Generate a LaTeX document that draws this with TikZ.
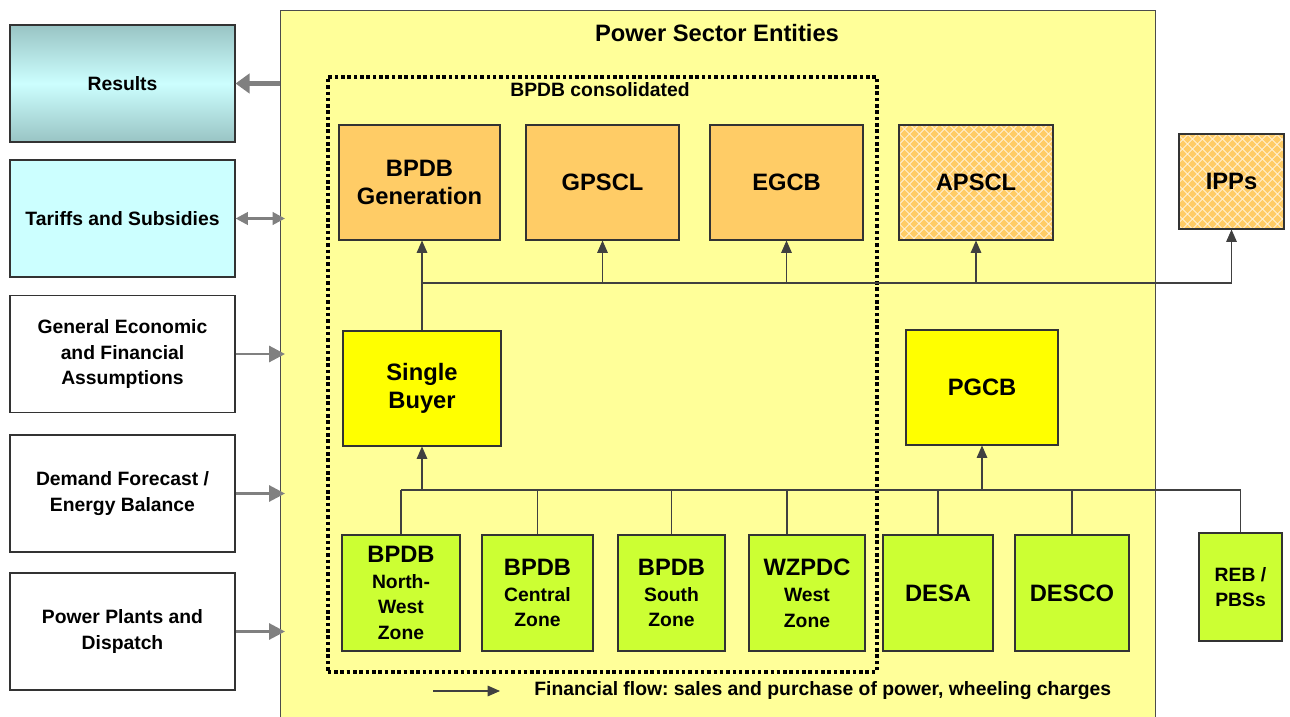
\documentclass[tikz,border=0pt]{standalone}
\usepackage{fontspec}
\setmainfont{Liberation Sans}
\usetikzlibrary{arrows.meta,patterns.meta}
\definecolor{sectoryellow}{HTML}{FFFF99}
\definecolor{genorange}{HTML}{FFCC66}
\definecolor{buyeryellow}{HTML}{FFFF00}
\definecolor{distgreen}{HTML}{CCFF33}
\definecolor{palecyan}{HTML}{CCFFFF}
\definecolor{tealdark}{HTML}{99C4C4}
\definecolor{feedgray}{HTML}{808080}
\newcommand{\bigtxt}{\fontsize{13.5}{16}\selectfont\bfseries}
\newcommand{\smalltxt}{\fontsize{11}{14.7}\selectfont\bfseries}
\frenchspacing

\begin{document}
\begin{tikzpicture}[x=0.02cm,y=-0.02cm,
    box/.style={draw=black!80,line width=.6pt,inner sep=0pt,align=center},
    sz/.style 2 args={minimum width=#1*0.02cm,minimum height=#2*0.02cm},
    inputbox/.style={box,sz={225}{117},font=\smalltxt},
    genbox/.style={box,fill=genorange,font=\bigtxt},
    hatched/.style={box,font=\bigtxt,
        preaction={fill=genorange},
        preaction={pattern color=white!80!genorange,pattern={Lines[angle=45,distance=4pt,line width=.5pt]}},
        preaction={pattern color=white!80!genorange,pattern={Lines[angle=-45,distance=4pt,line width=.5pt]}}},
    buyerbox/.style={box,fill=buyeryellow,sz={158}{115},font=\bigtxt},
    distbox/.style={box,fill=distgreen,font=\smalltxt},
    wire/.style={draw=black!75,line width=.6pt},
    flow/.style={wire,-{Triangle[length=7pt,width=6pt]}},
    feed/.style={draw=feedgray,line width=1.7pt,-{Triangle[length=9pt,width=9pt]}},
    feedboth/.style={draw=feedgray,line width=1.6pt,{Triangle[length=7pt,width=7pt]}-{Triangle[length=7pt,width=7pt]}}]
\useasboundingbox (0,0) rectangle (1290,716);

\node[draw=black!70,fill=sectoryellow,sz={875}{730},anchor=north west] (sector) at (280,10) {};
\node[font=\bigtxt] (title) at (717,33) {Power Sector Entities};
\node[draw=black,line width=2pt,dash pattern=on 2pt off 1.6pt,sz={549}{595},anchor=north west] (bpdbgroup) at (326,75) {};
\node[font=\smalltxt] (grouplabel) at (600,90) {BPDB consolidated};

\node[inputbox,top color=tealdark,bottom color=tealdark,middle color=palecyan] (results) at (122.5,83.5) {Results};
\node[inputbox,fill=palecyan] (tariffs) at (122.5,218.5) {Tariffs and Subsidies};
\node[inputbox,fill=white] (geneco) at (122.5,354) {General Economic\\and Financial\\Assumptions};
\node[inputbox,fill=white] (demand) at (122.5,493.5) {Demand Forecast /\\Energy Balance};
\node[inputbox,fill=white] (plants) at (122.5,631.5) {Power Plants and\\Dispatch};

\node[genbox,sz={161}{115}] (gen) at (419.5,182.5) {BPDB\\Generation};
\node[genbox,sz={153}{115}] (gpscl) at (602.5,182.5) {GPSCL};
\node[genbox,sz={153}{115}] (egcb) at (786.5,182.5) {EGCB};
\node[hatched,sz={154}{115}] (apscl) at (976,182.5) {APSCL};
\node[hatched,sz={105}{95}] (ipps) at (1231.5,181.5) {IPPs};

\node[buyerbox] (buyer) at (422,388.5) {Single\\Buyer};
\node[buyerbox,sz={152}{115}] (pgcb) at (982,387.5) {PGCB};

\node[distbox,sz={118}{116}] (nw) at (401,593) {{\bigtxt BPDB}\\North-\\West\\Zone};
\node[distbox,sz={111}{116}] (central) at (537.5,593) {{\bigtxt BPDB}\\Central\\Zone};
\node[distbox,sz={107}{116}] (south) at (671.5,593) {{\bigtxt BPDB}\\South\\Zone};
\node[distbox,sz={116}{116}] (wzpdc) at (807,593) {{\bigtxt WZPDC}\\West\\Zone};
\node[distbox,sz={110}{116},font=\bigtxt] (desa) at (938,593) {DESA};
\node[distbox,sz={114}{116},font=\bigtxt] (desco) at (1072,593) {DESCO};
\node[distbox,sz={83}{108}] (reb) at (1240.5,587) {REB /\\PBSs};

\coordinate (upbus) at (0,283);
\coordinate (lowbus) at (0,490);

\draw[wire] (buyer.north) -- (buyer.north |- upbus);
\draw[flow] (buyer.north |- upbus) -- (buyer.north |- gen.south);
\draw[wire] (buyer.north |- upbus) -- (ipps.south |- upbus);
\foreach \n in {gpscl,egcb,apscl,ipps}
    \draw[flow] (\n.south |- upbus) -- (\n.south);

\draw[wire] (nw.north |- lowbus) -- (reb.north |- lowbus);
\foreach \n in {nw,central,south,desa,desco,reb}
    \draw[wire] (\n.north) -- (\n.north |- lowbus);
\draw[wire] ([xshift=-0.4cm]wzpdc.north) -- ([xshift=-0.4cm]wzpdc.north |- lowbus);
\draw[flow] (buyer.south |- lowbus) -- (buyer.south);
\draw[flow] (pgcb.south |- lowbus) -- (pgcb.south);

\draw[feed,line width=2.6pt,-{Triangle[length=8pt,width=11pt]}] (results.east -| sector.west) -- (results.east);
\draw[feedboth] (tariffs.east) -- ([xshift=0.1cm]tariffs.east -| sector.west);
\foreach \n in {geneco,demand,plants}
    \draw[feed] (\n.east) -- ([xshift=0.1cm]\n.east -| sector.west);

\coordinate (legA) at (433,691);
\coordinate (legB) at (500,691);
\draw[flow] (legA) -- (legB);
\node[anchor=west,font=\smalltxt,inner sep=0pt] (legend) at (534,691) {Financial flow: sales and purchase of power, wheeling charges};
\end{tikzpicture}
\end{document}
